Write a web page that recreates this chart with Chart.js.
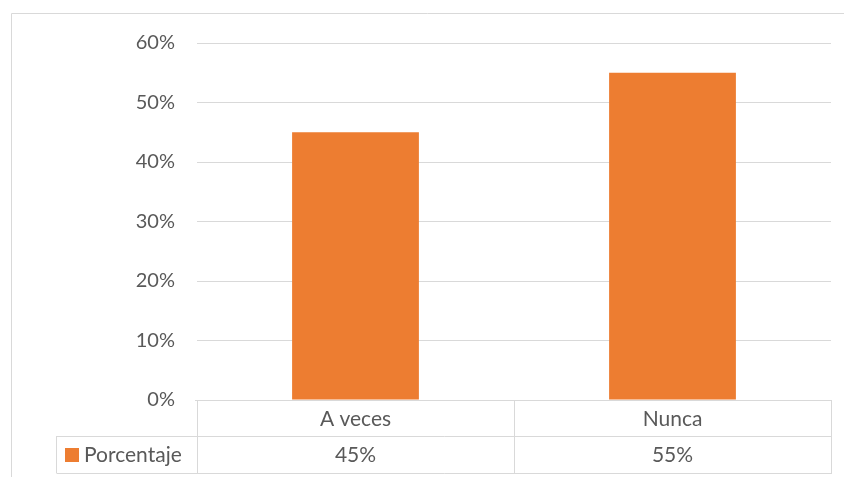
<!DOCTYPE html>
<html>
<head>
<meta charset="utf-8">
<script src="https://cdn.jsdelivr.net/npm/chart.js@4/dist/chart.umd.min.js"></script>
<style>
  html, body { margin: 0; padding: 0; background: #fff; }
  #wrap { width: 844px; height: 477px; position: relative; }
</style>
</head>
<body>
<div id="wrap"><canvas id="c"></canvas></div>
<script>
// Data
const categories = ['A veces', 'Nunca'];
const seriesName = 'Porcentaje';
const values = [45, 55];
const yTicks = [0, 10, 20, 30, 40, 50, 60];

const FONT = 'Lato, "Open Sans", sans-serif';
const TEXT = '#595959';
const LINE = '#d9d9d9';
const BAR = '#ED7D31';

// draws the outer frame and the data table under the plot
const tablePlugin = {
    id: 'dataTable',
    afterDraw(chart){
        const ctx = chart.ctx;
        const area = chart.chartArea;
        const x = chart.scales.x;
        const top = area.bottom, mid = top + 36, bot = top + 73;
        const legendLeft = 56;
        ctx.save();
        ctx.strokeStyle = LINE;
        ctx.lineWidth = 1;
        // outer frame
        ctx.beginPath();
        ctx.moveTo(11.5, 477); ctx.lineTo(11.5, 13.5); ctx.lineTo(844, 13.5);
        ctx.stroke();
        // table lines
        ctx.beginPath();
        ctx.moveTo(area.left - 2, top + 0.5); ctx.lineTo(area.right + 1, top + 0.5);
        ctx.moveTo(legendLeft + 0.5, mid + 0.5); ctx.lineTo(area.right + 1, mid + 0.5);
        ctx.moveTo(legendLeft + 0.5, bot + 0.5); ctx.lineTo(area.right + 1, bot + 0.5);
        ctx.moveTo(legendLeft + 0.5, mid); ctx.lineTo(legendLeft + 0.5, bot);
        const step = x.getPixelForValue(1) - x.getPixelForValue(0);
        for(let i = 0; i <= categories.length; i++){
            const px = Math.round(x.getPixelForValue(i) - step / 2) + 0.5;
            ctx.moveTo(px, top); ctx.lineTo(px, bot);
        }
        ctx.stroke();
        // text
        ctx.fillStyle = TEXT;
        ctx.font = '21px ' + FONT;
        ctx.textAlign = 'center';
        ctx.textBaseline = 'middle';
        categories.forEach((c, i) => {
            const px = x.getPixelForValue(i);
            ctx.fillText(c, px, (top + mid) / 2 + 1);
            ctx.fillText(values[i] + '%', px, (mid + bot) / 2 + 1);
        });
        // legend key
        ctx.fillStyle = BAR;
        ctx.fillRect(65, mid + 12, 14, 14);
        ctx.fillStyle = TEXT;
        ctx.textAlign = 'left';
        ctx.fillText(seriesName, 84, (mid + bot) / 2 + 1);
        ctx.restore();
    }
};

new Chart(document.getElementById('c'), {
    type: 'bar',
    data: {
        labels: categories,
        datasets: [{
            label: seriesName,
            data: values,
            backgroundColor: BAR,
            categoryPercentage: 1,
            barPercentage: 0.4
        }]
    },
    options: {
        responsive: true,
        maintainAspectRatio: false,
        animation: false,
        layout: { padding: { left: 12, right: 13, top: 43, bottom: 77 } },
        plugins: { legend: { display: false }, tooltip: { enabled: false } },
        scales: {
            x: { display: false },
            y: {
                min: 0, max: 60,
                afterBuildTicks: s => { s.ticks = yTicks.map(v => ({ value: v })); },
                afterFit: s => { s.width = 185; },
                grid: { color: LINE, drawTicks: false },
                border: { display: false },
                ticks: {
                    padding: 22,
                    color: TEXT,
                    font: { family: FONT, size: 20 },
                    callback: v => v + '%'
                }
            }
        }
    },
    plugins: [tablePlugin]
});
</script>
</body>
</html>
